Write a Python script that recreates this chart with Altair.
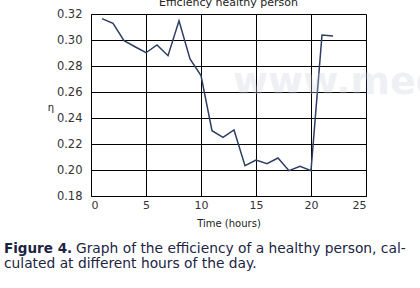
import altair as alt
import pandas as pd

hours = list(range(1, 23))
efficiency = [0.3164, 0.3128, 0.2995, 0.2948, 0.2902, 0.2962, 0.2879, 0.3148,
              0.2854, 0.2726, 0.2302, 0.2251, 0.2308, 0.2033, 0.2077, 0.2048,
              0.2092, 0.1995, 0.2028, 0.1995, 0.3038, 0.3030]
x_ticks = [0, 5, 10, 15, 20, 25]
y_ticks = [0.18, 0.20, 0.22, 0.24, 0.26, 0.28, 0.30, 0.32]

df = pd.DataFrame({"hour": hours, "eff": efficiency})

FONT = "DejaVu Sans"
INK = "#1c2444"

W, H = 275, 182

line = alt.Chart(df).mark_line(color="#2d3d63", strokeWidth=1.5).encode(
    x=alt.X("hour:Q", scale=alt.Scale(domain=[0, 25], nice=False),
            axis=alt.Axis(values=x_ticks, title="Time (hours)", grid=True,
                          gridColor="black", gridWidth=1, domainColor="black",
                          ticks=False, labelPadding=3, labelFontSize=11,
                          labelColor="#333", titleFontSize=10, titleFontWeight="normal",
                          titleColor="#222", titlePadding=8, labelFont=FONT, titleFont=FONT)),
    y=alt.Y("eff:Q", scale=alt.Scale(domain=[0.18, 0.32], nice=False, zero=False),
            axis=alt.Axis(values=y_ticks, format=".2f", title=None, grid=True,
                          gridColor="black", gridWidth=1, domainColor="black",
                          ticks=False, labelPadding=9, labelFontSize=11.5,
                          labelColor="#333", labelFont=FONT)),
)

def label(text, x, y, size, weight="normal", color=INK, align="left", opacity=1):
    return alt.Chart(pd.DataFrame({"t": [text]})).mark_text(
        font=FONT, fontSize=size, fontWeight=weight, color=color, align=align,
        opacity=opacity, baseline="alphabetic").encode(
        text="t:N", x=alt.value(x), y=alt.value(y))

title = label("Efficiency healthy person", W / 2, -8, 11, color="#222", align="center")
ylab = label("η", -40, 97, 10, color="#222", align="center")
watermark = label("www.medig", 142, 80, 38, weight="bold", color="#c8cedc", opacity=0.3)
cap1a = label("Figure 4.", -87, 239, 13.5, weight="bold")
cap1b = label("Graph of the efficiency of a healthy person, cal-", -15, 239, 13.8)
cap2 = label("culated at different hours of the day.", -87, 254, 13.8)

chart = alt.layer(line, watermark, title, ylab, cap1a, cap1b, cap2).properties(
    width=W, height=H,
    autosize=alt.AutoSizeParams(type="none"),
    padding={"left": 91, "top": 14, "right": 54, "bottom": 92},
    background="white",
).configure_view(stroke=None)

chart.save("out.html", embed_options={"renderer": "svg", "actions": False})
